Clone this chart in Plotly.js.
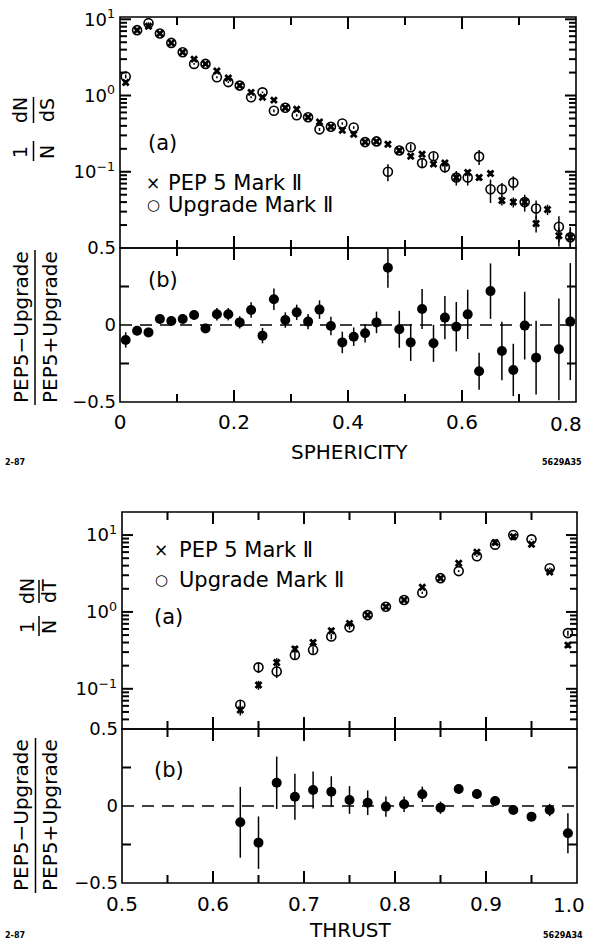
<!DOCTYPE html>
<html><head><meta charset="utf-8">
<script src="https://cdn.plot.ly/plotly-3.0.1.min.js"></script>
<style>html,body{margin:0;padding:0;background:#fff}</style>
</head><body>
<div id="chart" style="width:589px;height:942px"></div>
<script>
// ---------- Sphericity data ----------
const sphericity = [0.01,0.03,0.05,0.07,0.09,0.11,0.13,0.15,0.17,0.19,0.21,0.23,0.25,0.27,0.29,0.31,0.33,0.35,0.37,0.39,
                    0.41,0.43,0.45,0.47,0.49,0.51,0.53,0.55,0.57,0.59,0.61,0.63,0.65,0.67,0.69,0.71,0.73,0.75,0.77,0.79];
const pep5S = [1.48,7.2,8.1,6.5,4.9,3.7,3.0,2.6,2.1,1.7,1.35,1.1,0.95,0.87,0.69,0.66,0.52,0.45,0.39,0.35,
               0.31,0.245,0.25,0.23,0.19,0.16,0.17,0.126,0.13,0.084,0.098,0.084,0.095,0.042,0.040,0.040,0.021,0.032,0.0145,0.0138];
const upgS  = [1.78,7.2,8.9,6.5,4.9,3.7,2.6,2.6,1.74,1.5,1.35,0.95,1.1,0.63,0.69,0.55,0.52,0.36,0.39,0.43,
               0.38,0.245,0.25,0.10,0.19,0.21,0.13,0.16,0.115,0.084,0.084,0.158,0.059,0.059,0.072,0.040,0.033,null,0.019,0.0138];
const pep5SErr = [0.08,0.2,0.2,0.15,0.12,0.09,0.07,0.06,0.05,0.04,0.035,0.03,0.03,0.025,0.022,0.02,0.018,0.016,0.015,0.014,
                  0.013,0.011,0.011,0.011,0.01,0.009,0.009,0.008,0.008,0.007,0.007,0.007,0.007,0.006,0.006,0.006,0.005,0.005,0.004,0.004];
const upgSErr  = [0.1,0.2,0.25,0.15,0.12,0.09,0.07,0.06,0.05,0.04,0.035,0.03,0.03,0.025,0.022,0.02,0.018,0.016,0.015,0.016,
                  0.015,0.012,0.012,0.025,0.015,0.02,0.018,0.02,0.018,0.018,0.018,0.035,0.02,0.012,0.015,0.01,0.009,null,0.007,0.005];
const ratioS = [-0.097,-0.037,-0.048,0.039,0.026,0.039,0.065,-0.022,0.07,0.07,0.017,0.097,-0.069,0.167,0.032,0.082,0.022,0.10,-0.006,-0.113,
                -0.076,-0.054,0.017,0.372,-0.028,-0.113,0.104,-0.119,0.048,-0.011,0.069,-0.30,0.22,-0.169,-0.292,-0.004,-0.212,null,-0.158,0.022];
const ratioSErr = [0.05,0.03,0.03,0.03,0.03,0.03,0.03,0.03,0.04,0.04,0.04,0.05,0.05,0.07,0.05,0.05,0.05,0.06,0.06,0.07,
                   0.06,0.06,0.07,0.13,0.12,0.12,0.13,0.12,0.14,0.16,0.16,0.12,0.18,0.19,0.17,0.22,0.24,null,0.33,0.38];

// ---------- Thrust data ----------
const thrust = [0.63,0.65,0.67,0.69,0.71,0.73,0.75,0.77,0.79,0.81,0.83,0.85,0.87,0.89,0.91,0.93,0.95,0.97,0.99];
const pep5T = [0.053,0.112,0.22,0.33,0.40,0.57,0.71,0.91,1.17,1.43,2.09,2.75,4.3,6.0,8.0,9.5,7.6,3.3,0.37];
const upgT  = [0.062,0.19,0.168,0.275,0.32,0.48,0.63,0.91,1.17,1.43,1.78,2.75,3.4,5.3,7.5,10.0,8.8,3.7,0.53];
const pep5TErr = [0.008,0.015,0.03,0.03,0.03,0.04,0.04,0.04,0.05,0.05,0.06,0.07,0.1,0.12,0.15,0.18,0.15,0.08,0.03];
const upgTErr  = [0.008,0.03,0.03,0.03,0.035,0.04,0.04,0.04,0.05,0.05,0.06,0.07,0.1,0.12,0.15,0.18,0.15,0.08,0.04];
const ratioT = [-0.106,-0.238,0.151,0.06,0.104,0.093,0.039,0.021,-0.004,0.011,0.076,-0.011,0.11,0.078,0.032,-0.026,-0.069,-0.026,-0.177];
const ratioTErr = [0.23,0.17,0.17,0.15,0.12,0.10,0.09,0.08,0.065,0.05,0.05,0.04,0.03,0.03,0.02,0.02,0.02,0.04,0.13];

// ---------- ticks & tick labels ----------
const sphTicks = [0, 0.2, 0.4, 0.6, 0.8];
const sphTickText = ['0', '0.2', '0.4', '0.6', ''];
const sphMinor = [0.1, 0.3, 0.5, 0.7];
const thrTicks = [0.5, 0.6, 0.7, 0.8, 0.9, 1.0];
const thrTickText = ['0.5', '0.6', '0.7', '0.8', '0.9', ''];
const thrMinor = [0.55, 0.65, 0.75, 0.85, 0.95];
const logTicksS = [0.02,0.03,0.04,0.05,0.06,0.07,0.08,0.09,0.1,0.2,0.3,0.4,0.5,0.6,0.7,0.8,0.9,1,2,3,4,5,6,7,8,9,10];
const logTicksT = [0.04,0.05,0.06,0.07,0.08,0.09,0.1,0.2,0.3,0.4,0.5,0.6,0.7,0.8,0.9,1,2,3,4,5,6,7,8,9,10];
const decades = [0.1, 1, 10];
function logLabel(v){ if(v===10) return '10<sup>1</sup>'; if(v===1) return '10<sup>0</sup>'; if(v===0.1) return '10<sup>−1</sup>'; return ''; }
const ratioTicks = [-0.5,0,0.5];
const ratioLabels = ['−0.5','0','0.5'];
const ratioMarks = [-0.25, 0.25];

const W = 589, H = 942;
const FONT = 'DejaVu Sans';
const px = x => x / W, py = y => 1 - y / H;

function errTrace(x, y, err, xa, ya, symbol, size){
  return {x, y, xaxis: xa, yaxis: ya, type: 'scatter', mode: 'markers', showlegend: false,
    marker: {symbol, size, color: 'black', line: {color: 'black', width: symbol === 'circle-open' ? 1.6 : 0}},
    error_y: {type: 'data', array: err, visible: true, color: 'black', thickness: 1.5, width: 0}};
}
const traces = [
  errTrace(sphericity, pep5S, pep5SErr, 'x', 'y', 'x', 7),
  errTrace(sphericity, upgS, upgSErr, 'x', 'y', 'circle-open', 9),
  errTrace(sphericity, ratioS, ratioSErr, 'x2', 'y2', 'circle', 10),
  errTrace(thrust, pep5T, pep5TErr, 'x3', 'y3', 'x', 7),
  errTrace(thrust, upgT, upgTErr, 'x3', 'y3', 'circle-open', 9),
  errTrace(thrust, ratioT, ratioTErr, 'x4', 'y4', 'circle', 10)
];

function ax(extra){
  return Object.assign({showline: false, ticks: 'inside', tickcolor: 'rgba(0,0,0,0)', tickwidth: 1.5,
    showgrid: false, zeroline: false, ticklabeloverflow: 'allow',
    tickfont: {family: FONT, size: 18, color: 'black'}}, extra);
}
const dS = [px(120), px(576)], dT = [px(122), px(577)];
const dSa = [py(248), py(17)], dSb = [py(402), py(248)];
const dTa = [py(729), py(512)], dTb = [py(883), py(729)];
const layout = {
  width: W, height: H, autosize: false, margin: {l: 0, r: 0, t: 0, b: 0},
  paper_bgcolor: 'white', plot_bgcolor: 'white', showlegend: false,
  xaxis: ax({domain: dS, anchor: 'y', range: [0, 0.8], tickmode: 'array', tickvals: sphTicks, ticktext: sphTickText, ticklen: 12, showticklabels: false}),
  yaxis: ax({domain: dSa, anchor: 'x', type: 'log', range: [-2, 1.03], tickmode: 'array', tickvals: logTicksS, ticktext: logTicksS.map(logLabel), ticklen: 7, ticklabelstandoff: 4}),
  xaxis2: ax({domain: dS, anchor: 'y2', range: [0, 0.8], tickmode: 'array', tickvals: sphTicks, ticktext: sphTickText, ticklen: 12, ticklabelstandoff: 6, tickfont: {family: FONT, size: 20, color: 'black'}}),
  yaxis2: ax({domain: dSb, anchor: 'x2', range: [-0.5, 0.5], tickmode: 'array', tickvals: ratioTicks, ticktext: ratioLabels, ticklen: 8, ticklabelstandoff: 3}),
  xaxis3: ax({domain: dT, anchor: 'y3', range: [0.5, 1.0], tickmode: 'array', tickvals: thrTicks, ticktext: thrTickText, ticklen: 12, showticklabels: false}),
  yaxis3: ax({domain: dTa, anchor: 'x3', type: 'log', range: [-1.523, 1.3], tickmode: 'array', tickvals: logTicksT, ticktext: logTicksT.map(logLabel), ticklen: 7, ticklabelstandoff: 4}),
  xaxis4: ax({domain: dT, anchor: 'y4', range: [0.5, 1.0], tickmode: 'array', tickvals: thrTicks, ticktext: thrTickText, ticklen: 12, ticklabelstandoff: 7, tickfont: {family: FONT, size: 20, color: 'black'}}),
  yaxis4: ax({domain: dTb, anchor: 'x4', range: [-0.5, 0.5], tickmode: 'array', tickvals: ratioTicks, ticktext: ratioLabels, ticklen: 8, ticklabelstandoff: 3}),
  shapes: [], annotations: []
};

function ls(w){ return {color: 'black', width: w || 1.5}; }
function frame(xa, ya){
  return {type: 'rect', xref: xa + ' domain', yref: ya + ' domain', x0: 0, x1: 1, y0: 0, y1: 1, line: ls(1.6), fillcolor: 'rgba(0,0,0,0)'};
}
// x tick marks at the axis tick values (bottom & top, pointing inside)
function xTickMarks(xa, ydom, vals, len){
  const out = [], d = len / H;
  vals.forEach(v => {
    out.push({type: 'line', xref: xa, yref: 'paper', x0: v, x1: v, y0: ydom[0], y1: ydom[0] + d, line: ls(2)});
    out.push({type: 'line', xref: xa, yref: 'paper', x0: v, x1: v, y0: ydom[1], y1: ydom[1] - d, line: ls(2)});
  });
  return out;
}
// y tick marks at the axis tick values (left & right, pointing inside)
function yTickMarks(ya, xdom, vals, lenFn){
  const out = [];
  vals.forEach(v => {
    const d = lenFn(v) / W;
    out.push({type: 'line', xref: 'paper', yref: ya, y0: v, y1: v, x0: xdom[0], x1: xdom[0] + d, line: ls(2)});
    out.push({type: 'line', xref: 'paper', yref: ya, y0: v, y1: v, x0: xdom[1], x1: xdom[1] - d, line: ls(2)});
  });
  return out;
}
const logLen = v => decades.includes(v) ? 11 : 7;
layout.shapes.push(
  frame('x', 'y'), frame('x2', 'y2'), frame('x3', 'y3'), frame('x4', 'y4'),
  ...xTickMarks('x', dSa, sphTicks.slice(1, -1), 12), ...xTickMarks('x', dSa, sphMinor, 8),
  ...xTickMarks('x2', dSb, sphTicks.slice(1, -1), 12), ...xTickMarks('x2', dSb, sphMinor, 8),
  ...xTickMarks('x3', dTa, thrTicks.slice(1, -1), 12), ...xTickMarks('x3', dTa, thrMinor, 8),
  ...xTickMarks('x4', dTb, thrTicks.slice(1, -1), 12), ...xTickMarks('x4', dTb, thrMinor, 8),
  ...yTickMarks('y', dS, logTicksS, logLen), ...yTickMarks('y3', dT, logTicksT, logLen),
  ...yTickMarks('y2', dS, ratioMarks, () => 9), ...yTickMarks('y4', dT, ratioMarks, () => 9)
);
// zero reference dashed lines
layout.shapes.push({type: 'line', xref: 'x2 domain', yref: 'y2', x0: 0, x1: 1, y0: 0, y1: 0, line: {color: 'black', width: 1.5, dash: '12px,8px'}});
layout.shapes.push({type: 'line', xref: 'x4 domain', yref: 'y4', x0: 0, x1: 1, y0: 0, y1: 0, line: {color: 'black', width: 1.5, dash: '12px,8px'}});

function ann(text, x, y, size, extra){
  return Object.assign({text, xref: 'paper', yref: 'paper', x: px(x), y: py(y), xanchor: 'center', yanchor: 'middle',
    showarrow: false, font: {family: FONT, size, color: 'black'}}, extra || {});
}
function vbar(x, y0, y1){
  return {type: 'line', xref: 'paper', yref: 'paper', x0: px(x), x1: px(x), y0: py(y0), y1: py(y1), line: ls(1.5)};
}
const rot = {textangle: -90};
// y-axis titles drawn as rotated fractions
layout.annotations.push(ann('dN', 20, 110, 19, rot), ann('dS', 47, 110, 19, rot), ann('1', 20, 152, 19, rot), ann('N', 47, 152, 19, rot));
layout.shapes.push(vbar(33.5, 97, 123), vbar(33.5, 141, 161));
layout.annotations.push(ann('PEP5−Upgrade', 21, 327, 20, rot), ann('PEP5+Upgrade', 50, 327, 20, rot));
layout.shapes.push(vbar(35, 250, 405));
layout.annotations.push(ann('dN', 27, 591, 19, rot), ann('dT', 49, 591, 19, rot), ann('1', 27, 627, 19, rot), ann('N', 49, 627, 19, rot));
layout.shapes.push(vbar(39, 580, 603), vbar(39, 616, 636));
layout.annotations.push(ann('PEP5−Upgrade', 21, 815, 20, rot), ann('PEP5+Upgrade', 50, 815, 20, rot));
layout.shapes.push(vbar(35.5, 738, 893));

// last x tick labels, pulled in from the page edge as in the original
layout.annotations.push(
  {text: '0.8', xref: 'x2', yref: 'paper', x: 0.8, y: py(424), xanchor: 'right', yanchor: 'middle', xshift: 8,
   showarrow: false, font: {family: FONT, size: 20, color: 'black'}},
  {text: '1.0', xref: 'x4', yref: 'paper', x: 1.0, y: py(905), xanchor: 'right', yanchor: 'middle', xshift: 10,
   showarrow: false, font: {family: FONT, size: 20, color: 'black'}}
);

const L = {xanchor: 'left'};
const small = {font: {family: FONT, size: 8, color: 'black', weight: 'bold'}};
layout.annotations.push(
  ann('(a)', 162, 143, 21),
  ann('×', 153, 183, 17), ann('PEP 5 Mark Ⅱ', 166, 183, 21, L),
  ann('○', 153, 205, 15), ann('Upgrade Mark Ⅱ', 166, 205, 21, L),
  ann('(b)', 163, 280, 21),
  ann('SPHERICITY', 350, 452, 20),
  ann('2-87', 15, 462, 8, small), ann('5629A35', 562, 462, 8, small),
  ann('×', 161, 550, 17), ann('PEP 5 Mark Ⅱ', 177, 550, 21, L),
  ann('○', 161, 580, 15), ann('Upgrade Mark Ⅱ', 177, 580, 21, L),
  ann('(a)', 168, 617, 21), ann('(b)', 169, 770, 21),
  ann('THRUST', 350, 930, 20),
  ann('2-87', 15, 935, 8, small), ann('5629A34', 563, 935, 8, small)
);

Plotly.newPlot('chart', traces, layout, {staticPlot: true, displayModeBar: false});
</script>
</body></html>
